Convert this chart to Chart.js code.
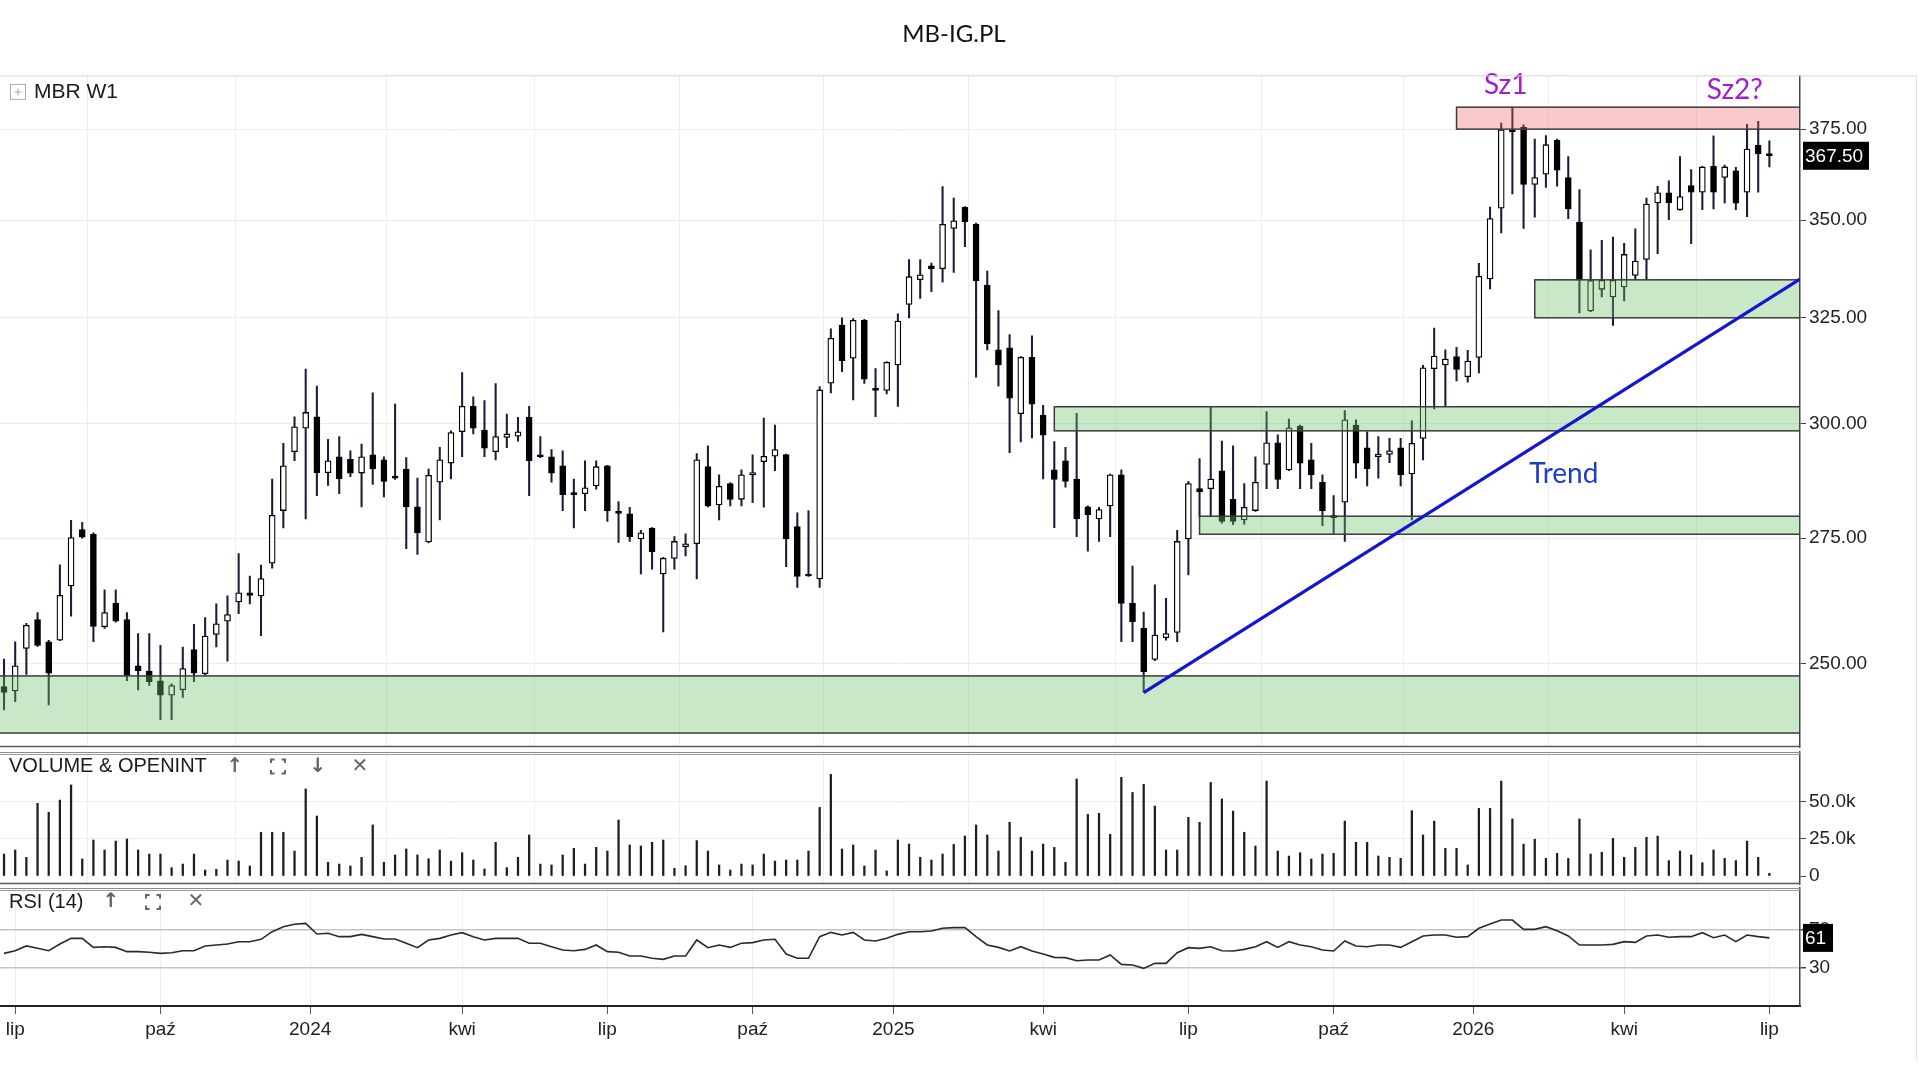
<!DOCTYPE html>
<html lang="pl">
<head>
<meta charset="utf-8">
<title>MB-IG.PL</title>
<script src="https://cdn.jsdelivr.net/npm/chart.js@4.4.1/dist/chart.umd.min.js"></script>
<style>
  html, body { margin: 0; padding: 0; background: #fff; }
  body { width: 1920px; height: 1080px; position: relative; overflow: hidden; }
  canvas { position: absolute; left: 0; }
  #edge { position: absolute; left: 1916px; top: 75px; width: 1px; height: 985px; background: #e2e2e2; }
</style>
</head>
<body>
<div id="edge"></div>
<canvas id="priceChart" width="1920" height="750" style="top:0"></canvas>
<canvas id="volumeChart" width="1920" height="136" style="top:750px"></canvas>
<canvas id="rsiChart" width="1920" height="194" style="top:886px"></canvas>
<script>
// Weekly candles, MBR W1 (one value per week, oldest first)
const opens = [
  245.7, 244.9, 252.9, 258.5, 254.2, 254.5, 265.2, 276.8, 275.8, 257.1,
  261.7, 258.5, 249.6, 248.6, 246.8, 244.1, 245.1, 252.7, 248.1, 255.6,
  258.2, 262.0, 263.8, 263.2, 269.8, 280.8, 293.6, 298.9, 301.5, 289.0,
  292.5, 291.9, 288.9, 292.9, 291.8, 288.0, 289.8, 281.6, 274.2, 286.9,
  291.1, 298.1, 303.9, 298.5, 293.6, 296.8, 297.1, 301.4, 292.6, 292.5,
  290.5, 284.6, 284.4, 286.1, 290.5, 280.6, 280.1, 274.8, 277.1, 267.6,
  270.8, 273.2, 273.8, 290.3, 282.0, 286.6, 283.2, 288.5, 291.4, 292.6,
  293.0, 277.4, 267.6, 266.6, 309.3, 323.2, 315.2, 324.4, 307.9, 307.6,
  313.6, 328.3, 334.5, 338.1, 337.3, 347.8, 353.4, 348.9, 333.2, 317.2,
  317.7, 302.2, 315.4, 301.9, 289.6, 291.6, 287.6, 281.6, 279.0, 281.8,
  288.5, 261.7, 256.8, 250.8, 255.0, 256.0, 274.8, 285.5, 285.5, 289.4,
  283.2, 278.8, 280.8, 290.8, 295.6, 289.6, 299.4, 291.8, 286.9, 279.6,
  282.6, 299.6, 294.5, 292.5, 293.0, 294.5, 288.7, 296.6, 312.7, 313.6,
  315.6, 310.8, 315.4, 334.7, 353.2, 374.8, 375.6, 359.6, 362.4, 371.8,
  361.5, 349.5, 326.7, 332.1, 330.2, 332.7, 335.6, 339.7, 354.6, 357.3,
  352.8, 359.3, 357.5, 364.6, 361.5, 363.3, 357.5, 370.4, 368.1,
];
const highs = [
  250.9, 254.2, 257.8, 259.9, 254.5, 269.5, 278.7, 278.3, 276.1, 264.4,
  264.4, 259.9, 255.8, 255.8, 253.5, 246.2, 253.2, 257.6, 258.9, 261.6,
  263.2, 271.8, 267.2, 269.4, 287.6, 295.5, 301.5, 312.6, 308.6, 296.4,
  297.0, 293.8, 295.3, 307.0, 292.5, 304.4, 292.3, 287.8, 289.8, 294.6,
  298.3, 311.8, 306.1, 305.2, 309.2, 302.1, 301.4, 303.9, 297.0, 294.1,
  293.8, 287.6, 291.6, 291.6, 290.6, 282.7, 281.5, 276.6, 277.2, 271.0,
  275.3, 275.9, 293.2, 294.9, 288.5, 286.8, 289.6, 292.9, 301.2, 299.6,
  293.1, 280.3, 280.8, 308.5, 322.3, 325.0, 324.8, 324.6, 312.7, 314.4,
  326.0, 339.7, 339.7, 338.8, 359.0, 355.9, 353.6, 349.2, 336.7, 326.8,
  320.9, 315.6, 320.6, 304.1, 295.9, 294.6, 302.3, 281.8, 281.5, 288.7,
  289.6, 269.2, 260.0, 265.4, 262.7, 276.6, 287.1, 292.1, 303.7, 296.0,
  294.9, 286.6, 292.5, 302.7, 297.4, 301.0, 299.6, 295.5, 288.5, 284.0,
  302.9, 300.8, 298.1, 297.0, 296.6, 296.6, 300.6, 313.5, 322.5, 317.2,
  317.8, 317.1, 338.7, 353.5, 376.7, 381.3, 376.2, 372.2, 373.2, 372.2,
  367.3, 358.2, 342.2, 344.7, 345.5, 343.9, 347.7, 355.9, 359.1, 360.6,
  367.3, 363.7, 364.6, 373.1, 364.9, 364.3, 376.4, 377.2, 371.7,
];
const lows = [
  241.4, 242.9, 248.0, 253.3, 242.3, 254.4, 259.2, 275.0, 254.2, 256.8,
  258.0, 246.8, 245.1, 245.9, 239.6, 239.6, 243.7, 246.6, 247.8, 253.2,
  250.5, 259.7, 261.6, 255.4, 268.8, 277.1, 291.6, 279.0, 284.0, 286.2,
  284.4, 288.1, 281.6, 286.4, 283.7, 287.5, 272.8, 271.6, 274.0, 278.8,
  287.6, 292.5, 297.6, 292.5, 291.8, 294.5, 296.0, 284.0, 292.3, 286.9,
  280.8, 277.1, 280.8, 285.4, 278.5, 274.1, 274.3, 267.6, 268.6, 256.1,
  268.6, 271.3, 266.6, 281.6, 278.8, 281.8, 281.8, 282.5, 281.5, 289.4,
  269.1, 264.9, 267.1, 264.9, 307.0, 312.0, 305.4, 309.2, 301.5, 306.8,
  303.9, 325.0, 329.8, 331.5, 333.9, 336.4, 343.0, 310.7, 317.2, 308.6,
  293.4, 295.8, 296.7, 287.6, 277.2, 285.8, 275.3, 272.3, 274.3, 275.3,
  254.2, 254.2, 244.6, 250.6, 254.5, 254.2, 267.4, 279.5, 279.5, 278.1,
  277.8, 277.9, 280.6, 285.5, 285.5, 289.4, 285.5, 285.5, 277.6, 275.9,
  274.3, 287.8, 286.1, 287.8, 291.2, 286.1, 278.8, 291.8, 303.3, 303.9,
  309.8, 309.5, 311.7, 332.2, 346.6, 357.0, 347.8, 350.8, 358.8, 359.1,
  350.4, 326.2, 326.5, 330.2, 323.1, 329.2, 334.5, 334.5, 341.2, 350.1,
  352.6, 343.8, 352.8, 353.0, 354.6, 352.8, 350.9, 357.5, 364.4,
];
const closes = [
  244.6, 249.6, 257.4, 253.5, 248.2, 263.3, 275.1, 275.2, 257.2, 259.9,
  258.2, 247.8, 248.7, 246.6, 244.1, 245.9, 249.1, 248.2, 255.3, 257.7,
  259.5, 263.8, 263.3, 266.7, 279.8, 290.5, 299.2, 302.5, 289.0, 291.6,
  287.6, 288.9, 292.5, 289.8, 287.1, 287.8, 281.6, 276.1, 288.4, 291.8,
  297.9, 303.9, 298.9, 294.4, 297.0, 297.6, 298.1, 291.6, 292.5, 288.9,
  284.2, 284.2, 285.7, 290.3, 280.8, 280.2, 275.3, 276.1, 272.2, 270.8,
  274.3, 273.8, 291.8, 281.8, 286.0, 283.2, 288.5, 289.0, 292.6, 294.1,
  274.8, 267.1, 267.2, 307.7, 320.0, 314.6, 324.4, 310.2, 307.6, 314.2,
  324.2, 335.3, 335.8, 337.3, 348.9, 349.8, 349.5, 334.3, 318.6, 313.6,
  305.8, 315.4, 304.4, 297.3, 287.5, 287.1, 279.0, 279.9, 281.0, 288.5,
  261.7, 258.1, 248.5, 255.5, 255.8, 274.3, 286.6, 284.8, 287.6, 278.5,
  278.5, 281.5, 286.9, 295.6, 287.5, 299.0, 291.1, 288.5, 280.8, 279.3,
  300.8, 291.1, 289.8, 293.1, 293.8, 288.5, 295.5, 312.9, 315.7, 315.0,
  312.5, 314.5, 335.4, 350.4, 374.8, 374.2, 359.6, 361.5, 370.6, 363.5,
  353.0, 334.5, 334.3, 334.4, 334.4, 341.0, 339.3, 354.3, 357.3, 354.6,
  356.3, 357.5, 364.4, 357.5, 364.4, 354.5, 369.4, 368.0, 367.5,
];

// Weekly volume, thousands
const volumes = [
  14.7, 17.4, 12.5, 48.7, 42.7, 50.9, 61.0, 11.4, 24.1, 17.4,
  23.4, 24.8, 17.4, 14.7, 14.7, 5.6, 8.0, 14.7, 4.0, 4.5,
  10.7, 10.0, 6.7, 29.3, 29.3, 29.3, 16.7, 58.3, 40.2, 9.2,
  8.0, 6.7, 12.5, 34.2, 9.2, 14.1, 18.1, 14.1, 11.6, 17.4,
  10.0, 15.6, 10.7, 4.7, 22.6, 5.6, 12.5, 27.5, 8.0, 7.4,
  14.1, 18.5, 8.0, 19.2, 16.7, 37.5, 20.8, 20.1, 22.6, 24.1,
  5.1, 6.9, 23.7, 16.7, 7.4, 4.0, 8.0, 7.4, 14.7, 10.0,
  10.7, 10.7, 16.7, 46.0, 68.1, 18.1, 20.8, 6.7, 17.4, 3.4,
  24.1, 21.4, 12.5, 10.7, 14.7, 21.2, 26.8, 34.2, 27.5, 16.7,
  36.0, 25.9, 16.7, 21.4, 19.2, 9.2, 65.0, 41.3, 42.0, 27.9,
  66.1, 56.0, 61.4, 46.9, 17.4, 17.4, 39.3, 36.0, 62.7, 51.6,
  43.5, 29.3, 20.1, 63.6, 16.7, 13.4, 15.6, 11.4, 14.7, 15.2,
  36.8, 22.6, 22.6, 13.4, 12.5, 11.8, 43.8, 27.5, 36.8, 18.5,
  18.5, 7.4, 45.3, 45.3, 63.6, 38.2, 21.4, 24.6, 11.8, 15.2,
  11.8, 38.2, 14.7, 15.9, 25.2, 12.5, 19.2, 25.9, 26.8, 10.3,
  16.7, 14.1, 8.9, 17.4, 11.8, 10.3, 23.4, 12.5, 1.8,
];

// RSI (14)
const rsiValues = [
  44.7, 47.5, 52.5, 50.0, 47.5, 54.6, 60.5, 60.5, 51.0, 51.7,
  51.0, 46.5, 46.5, 45.8, 44.7, 45.4, 47.5, 47.5, 52.5, 53.5,
  54.6, 57.0, 57.0, 59.5, 67.5, 72.8, 75.3, 76.3, 65.1, 65.8,
  62.3, 62.3, 64.7, 62.3, 59.8, 59.8, 55.3, 50.7, 58.8, 60.5,
  64.0, 66.5, 62.3, 58.8, 60.5, 60.5, 60.5, 55.3, 55.3, 51.7,
  48.2, 47.5, 48.9, 53.5, 46.5, 45.8, 41.9, 41.9, 39.5, 38.4,
  41.9, 41.9, 58.8, 50.7, 53.5, 51.0, 55.3, 56.0, 58.8, 59.5,
  44.0, 39.5, 39.5, 62.3, 66.8, 64.0, 66.8, 58.8, 57.7, 60.5,
  64.7, 67.5, 67.5, 68.2, 71.1, 71.8, 71.8, 62.3, 53.5, 51.0,
  47.2, 51.7, 47.2, 44.0, 40.5, 40.2, 37.0, 37.7, 37.7, 43.0,
  33.1, 32.4, 28.9, 34.2, 34.2, 45.4, 50.7, 50.0, 51.7, 47.5,
  47.2, 48.9, 51.7, 57.0, 51.0, 57.0, 53.5, 51.7, 48.2, 47.2,
  57.7, 52.5, 51.7, 53.5, 53.5, 51.0, 57.0, 63.0, 64.0, 64.0,
  61.6, 62.3, 71.1, 75.6, 79.8, 79.8, 70.0, 70.0, 72.8, 68.6,
  63.0, 53.5, 53.5, 53.5, 54.2, 57.0, 56.3, 63.0, 64.0, 61.6,
  62.3, 62.3, 66.5, 61.2, 64.0, 57.0, 64.0, 62.3, 61.0,
];

// Time axis: week index of each month label
const timeTicks = [1, 14, 27.4, 41, 54, 67, 79.6, 93, 106, 119, 131.5, 145, 158];
const timeLabels = ["lip", "paź", "2024", "kwi", "lip", "paź", "2025", "kwi", "lip", "paź", "2026", "kwi", "lip"];
const priceTicks = [250, 275, 300, 325, 350, 375];
const volumeTicks = [0, 25, 50];
const rsiTicks = [30, 70];

// Drawn zones: first week, price band
const zoneFrom = [-1, 94, 107, 137, 130];
const zoneLow = [237.2, 298.3, 275.8, 325.0, 375.0];
const zoneHigh = [247.7, 303.8, 279.6, 334.5, 381.3];
const zoneType = ["support", "support", "support", "support", "resistance"];

// Trend line from the spring low to the right edge
const trendWeeks = [102, 160.74];
const trendPrices = [244.6, 334.7];

// Text notes on the price panel
const noteText = ["Sz1", "Sz2?", "Trend"];
const noteWeek = [134.4, 154.9, 139.6];
const notePrice = [387.8, 386.4, 288.7];
const noteKind = ["top", "top", "trend"];

const AXIS_FONT = "'Liberation Sans', Arial, sans-serif";
const NOTE_FONT = "Lato, 'Open Sans', sans-serif";
const X_MIN = -0.36;
const X_MAX = 160.74;

Chart.defaults.font.family = AXIS_FONT;

const weeks = opens.map((_, i) => i);
const rising = weeks.map((i) => closes[i] >= opens[i]);

// Fixed right axis width so the three panels line up
const fitValueAxis = (scale) => {
  scale.width = 120;
  scale.paddingTop = 0;
  scale.paddingBottom = 0;
};

function timeAxis(withLabels) {
  return {
    type: "linear",
    min: X_MIN,
    max: X_MAX,
    bounds: "data",
    offset: false,
    afterBuildTicks: (scale) => {
      scale.ticks = timeTicks.map((v) => ({ value: v }));
    },
    afterFit: (scale) => {
      scale.height = withLabels ? 74 : 0;
      scale.paddingLeft = 0;
      scale.paddingRight = 0;
    },
    grid: { color: "#efefef", drawTicks: withLabels, tickLength: 8, tickColor: "#555" },
    border: { display: withLabels, color: "#222", width: 2 },
    ticks: {
      display: withLabels,
      autoSkip: false,
      maxRotation: 0,
      padding: 4,
      color: "#222",
      font: { family: AXIS_FONT, size: 19 },
      callback: (value, index) => timeLabels[index],
    },
  };
}

function valueAxis(extra) {
  return {
    position: "right",
    bounds: "data",
    afterFit: fitValueAxis,
    border: { color: "#444", width: 1.5 },
    ...extra,
    grid: { color: "#ececec", tickLength: 6, tickColor: "#444", ...(extra.grid || {}) },
    ticks: {
      padding: 3,
      color: "#222",
      autoSkip: false,
      font: { family: AXIS_FONT, size: 19 },
      ...(extra.ticks || {}),
    },
  };
}

// Small grey toolbar icons next to the panel names
function drawIcon(ctx, kind, cx, cy) {
  ctx.save();
  ctx.strokeStyle = "#666";
  ctx.fillStyle = "#666";
  ctx.lineWidth = 2;
  if (kind === "expand") {
    const h = 7, c = 3.5;
    [[-1, -1], [1, -1], [-1, 1], [1, 1]].forEach(([sx, sy]) => {
      ctx.beginPath();
      ctx.moveTo(cx + sx * h, cy + sy * (h - c));
      ctx.lineTo(cx + sx * h, cy + sy * h);
      ctx.lineTo(cx + sx * (h - c), cy + sy * h);
      ctx.stroke();
    });
  } else {
    ctx.font = "bold 20px 'DejaVu Sans', sans-serif";
    ctx.textAlign = "center";
    ctx.textBaseline = "middle";
    ctx.fillText({ up: "↑", down: "↓", close: "✕" }[kind], cx, cy);
  }
  ctx.restore();
}

function panelLabel(text, icons, opts) {
  return {
    id: "panelLabel",
    afterDraw(chart) {
      const { ctx, chartArea } = chart;
      const cy = chartArea.top + opts.dy;
      ctx.save();
      if (opts.boxed) {
        ctx.strokeStyle = "#aaa";
        ctx.lineWidth = 1;
        ctx.strokeRect(10.5, cy - 7.5, 15, 15);
        ctx.beginPath();
        ctx.moveTo(14.5, cy); ctx.lineTo(21.5, cy);
        ctx.moveTo(18, cy - 3.5); ctx.lineTo(18, cy + 3.5);
        ctx.stroke();
      }
      ctx.fillStyle = "#1a1a1a";
      ctx.font = opts.size + "px " + AXIS_FONT;
      ctx.textBaseline = "middle";
      ctx.fillText(text, opts.x, cy);
      ctx.restore();
      icons.forEach(([kind, x]) => drawIcon(ctx, kind, x, cy));
    },
  };
}

function panelFrame(opts) {
  return {
    id: "panelFrame",
    afterDraw(chart) {
      const { ctx, chartArea } = chart;
      const line = (y, color, w, x1) => {
        ctx.strokeStyle = color;
        ctx.lineWidth = w;
        ctx.beginPath();
        ctx.moveTo(0, y);
        ctx.lineTo(x1, y);
        ctx.stroke();
      };
      ctx.save();
      if (opts.outerTop) line(chartArea.top + 0.5, "#d6d6d6", 1, 1917);
      if (opts.doubleTop) {
        line(chartArea.top + 0.5, "#8c8c8c", 1, chartArea.right);
        line(chartArea.top + 2.5, "#9c9c9c", 1, chartArea.right);
      }
      if (opts.bottom) line(chartArea.bottom - 0.5, "#5a5a5a", 1.5, chartArea.right);
      ctx.restore();
    },
  };
}

function valueTag(value, label, boxWidth) {
  return {
    id: "valueTag",
    afterDraw(chart) {
      const { ctx, chartArea, scales } = chart;
      const cy = scales.y.getPixelForValue(value);
      ctx.save();
      ctx.fillStyle = "#000";
      ctx.fillRect(chartArea.right + 3, cy - 14, boxWidth, 28);
      ctx.fillStyle = "#fff";
      ctx.font = "19px " + AXIS_FONT;
      ctx.textBaseline = "middle";
      ctx.fillText(label, chartArea.right + 5, cy + 1);
      ctx.restore();
    },
  };
}

// Chart heading, centred a little left of the page middle like the source
const headingPlugin = {
  id: "heading",
  afterDraw(chart) {
    const { ctx } = chart;
    ctx.save();
    ctx.fillStyle = "#111";
    ctx.font = "24px " + NOTE_FONT;
    ctx.textAlign = "center";
    ctx.textBaseline = "middle";
    ctx.fillText("MB-IG.PL", 954, 34);
    ctx.restore();
  },
};

// Zones sit over the candles, under the trend line
const zonesPlugin = {
  id: "zones",
  afterDatasetDraw(chart, args) {
    if (args.index !== 1) return;
    const { ctx, chartArea, scales: { x, y } } = chart;
    ctx.save();
    ctx.beginPath();
    ctx.rect(chartArea.left, chartArea.top, chartArea.width, chartArea.height);
    ctx.clip();
    zoneFrom.forEach((from, i) => {
      const left = Math.max(x.getPixelForValue(from), chartArea.left - 2);
      const right = chartArea.right;
      const top = y.getPixelForValue(zoneHigh[i]);
      const bottom = y.getPixelForValue(zoneLow[i]);
      ctx.fillStyle = zoneType[i] === "resistance" ? "rgba(240, 100, 100, 0.35)" : "rgba(110, 195, 110, 0.38)";
      ctx.fillRect(left, top, right - left, bottom - top);
      ctx.strokeStyle = "#3c3c3c";
      ctx.lineWidth = 1.5;
      ctx.strokeRect(left, top, right - left, bottom - top);
    });
    ctx.restore();
  },
};

const notesPlugin = {
  id: "notes",
  afterDatasetsDraw(chart) {
    const { ctx, scales: { x, y } } = chart;
    ctx.save();
    ctx.font = "28px " + NOTE_FONT;
    ctx.textAlign = "center";
    ctx.textBaseline = "middle";
    noteText.forEach((t, i) => {
      ctx.fillStyle = noteKind[i] === "trend" ? "#1e3cc8" : "#a020d0";
      ctx.fillText(t, x.getPixelForValue(noteWeek[i]), y.getPixelForValue(notePrice[i]));
    });
    ctx.restore();
  },
};

const last = closes.length - 1;

// Price panel
new Chart(document.getElementById("priceChart"), {
  type: "bar",
  data: {
    datasets: [
      {
        label: "wick",
        data: weeks.map((i) => ({ x: i, y: [lows[i], highs[i]] })),
        backgroundColor: "#1b1b3a",
        barThickness: 1.4,
        grouped: false,
        order: 2,
      },
      {
        label: "body",
        data: weeks.map((i) => ({ x: i, y: [Math.min(opens[i], closes[i]), Math.max(opens[i], closes[i])] })),
        backgroundColor: rising.map((up) => (up ? "#ffffff" : "#000000")),
        borderColor: "#000",
        borderWidth: 1.3,
        borderSkipped: false,
        barThickness: 6,
        minBarLength: 2,
        grouped: false,
        order: 1,
      },
      {
        type: "line",
        label: "Trend",
        data: trendWeeks.map((w, i) => ({ x: w, y: trendPrices[i] })),
        borderColor: "#1414d4",
        borderWidth: 3.2,
        pointRadius: 0,
        order: 0,
      },
    ],
  },
  options: {
    responsive: false,
    animation: false,
    layout: { padding: { top: 75.4, right: 0, bottom: 3, left: 0 } },
    plugins: {
      legend: { display: false },
      tooltip: { enabled: false },
    },
    scales: {
      x: timeAxis(false),
      y: valueAxis({
        type: "logarithmic",
        min: 234.7,
        max: 390.6,
        afterBuildTicks: (scale) => {
          scale.ticks = priceTicks.map((v) => ({ value: v }));
        },
        ticks: { callback: (v) => Number(v).toFixed(2) },
      }),
    },
  },
  plugins: [
    zonesPlugin,
    notesPlugin,
    headingPlugin,
    panelFrame({ outerTop: true, bottom: true }),
    panelLabel("MBR W1", [], { x: 34, dy: 16.5, size: 21, boxed: true }),
    valueTag(closes[last], closes[last].toFixed(2), 66),
  ],
});

// Volume panel
new Chart(document.getElementById("volumeChart"), {
  type: "bar",
  data: {
    datasets: [
      {
        label: "Volume",
        data: weeks.map((i) => ({ x: i, y: volumes[i] })),
        backgroundColor: "#1e1e1e",
        barThickness: 1.6,
      },
    ],
  },
  options: {
    responsive: false,
    animation: false,
    layout: { padding: { top: 2, right: 0, bottom: 2, left: 0 } },
    plugins: { legend: { display: false }, tooltip: { enabled: false } },
    scales: {
      x: timeAxis(false),
      y: valueAxis({
        type: "linear",
        min: -5.36,
        max: 83.1,
        afterBuildTicks: (scale) => {
          scale.ticks = volumeTicks.map((v) => ({ value: v }));
        },
        grid: { color: (c) => (c.tick && c.tick.value === 0 ? "rgba(0,0,0,0)" : "#ececec") },
        ticks: { callback: (v) => (v === 0 ? "0" : v.toFixed(1) + "k") },
      }),
    },
  },
  plugins: [
    panelFrame({ doubleTop: true, bottom: true }),
    panelLabel("VOLUME & OPENINT", [["up", 235], ["expand", 278], ["down", 318], ["close", 360]], { x: 9, dy: 14.5, size: 20 }),
  ],
});

// RSI panel with the time labels
new Chart(document.getElementById("rsiChart"), {
  type: "line",
  data: {
    datasets: [
      {
        label: "RSI (14)",
        data: weeks.map((i) => ({ x: i, y: rsiValues[i] })),
        borderColor: "#2a2a2a",
        borderWidth: 1.6,
        pointRadius: 0,
        tension: 0,
      },
    ],
  },
  options: {
    responsive: false,
    animation: false,
    layout: { padding: { top: 2, right: 0, bottom: 0, left: 0 } },
    plugins: { legend: { display: false }, tooltip: { enabled: false } },
    scales: {
      x: timeAxis(true),
      y: valueAxis({
        type: "linear",
        min: -10.7,
        max: 113.5,
        afterBuildTicks: (scale) => {
          scale.ticks = rsiTicks.map((v) => ({ value: v }));
        },
        grid: { color: "#c4c4c4", lineWidth: 1.5 },
      }),
    },
  },
  plugins: [
    panelFrame({ doubleTop: true }),
    panelLabel("RSI (14)", [["up", 111], ["expand", 153], ["close", 196]], { x: 9, dy: 14, size: 20 }),
    valueTag(rsiValues[last], String(Math.round(rsiValues[last])), 30),
  ],
});
</script>
</body>
</html>
